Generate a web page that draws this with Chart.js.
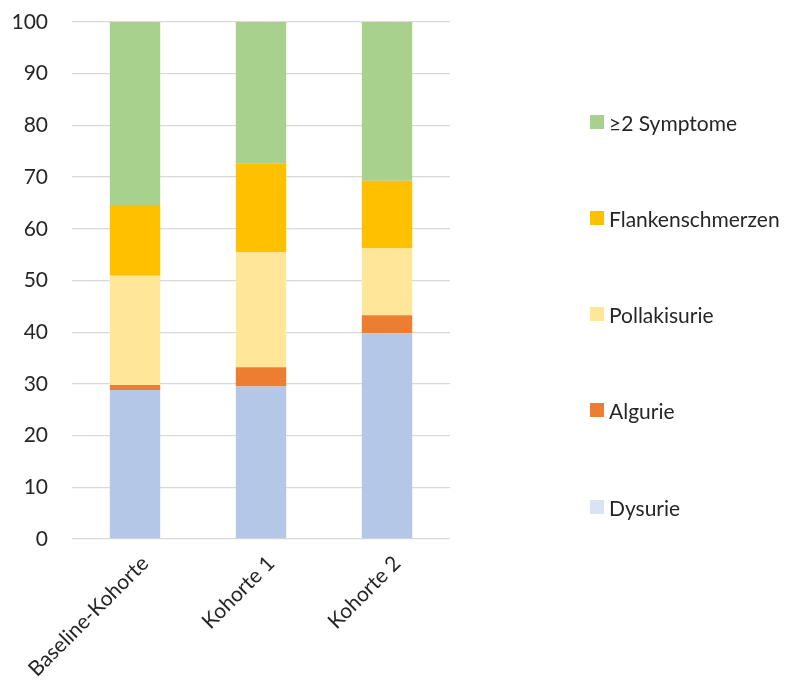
<!DOCTYPE html>
<html lang="de">
<head>
<meta charset="utf-8">
<script src="https://cdn.jsdelivr.net/npm/chart.js@4/dist/chart.umd.min.js"></script>
<style>
  html, body { margin: 0; padding: 0; background: #fff; }
  #wrap { position: relative; width: 791px; height: 686px; }
  #chart { position: absolute; left: 0; top: 0; }
  .legend-item {
    position: absolute; left: 590px; height: 26px;
    display: flex; align-items: center;
    font-family: Lato, "Liberation Sans", sans-serif; font-size: 21px; color: #262626;
    white-space: nowrap;
  }
  .legend-item span.box { display: inline-block; width: 14px; height: 14px; margin-right: 5px; }
</style>
</head>
<body>
<div id="wrap">
  <canvas id="chart" width="791" height="686"></canvas>
  <div id="legend"></div>
</div>
<script>
const categories = ['Baseline-Kohorte', 'Kohorte 1', 'Kohorte 2'];
const seriesNames = ['Dysurie', 'Algurie', 'Pollakisurie', 'Flankenschmerzen', '≥2 Symptome'];
const dysurie = [28.8, 29.5, 39.8];
const algurie = [1.0, 3.7, 3.5];
const pollakisurie = [21.1, 22.3, 13.0];
const flankenschmerzen = [13.5, 17.2, 13.0];
const mehrereSymptome = [35.6, 27.3, 30.7];
const yTicks = [0, 10, 20, 30, 40, 50, 60, 70, 80, 90, 100];

const barColors = ['#B4C7E7', '#ED7D31', '#FFE699', '#FFC000', '#A9D18E'];
const swatchColors = ['#DAE3F3', '#ED7D31', '#FFE699', '#FFC000', '#A9D18E'];
const seriesValues = [dysurie, algurie, pollakisurie, flankenschmerzen, mehrereSymptome];

const datasets = seriesNames.map((name, i) => ({
  label: name,
  data: seriesValues[i],
  backgroundColor: barColors[i],
  borderWidth: 0,
  barPercentage: 0.8,
  categoryPercentage: 0.5
}));

const font = { family: 'Lato, "Liberation Sans", sans-serif', size: 21 };

new Chart(document.getElementById('chart'), {
  type: 'bar',
  data: { labels: categories, datasets },
  options: {
    responsive: false,
    animation: false,
    layout: { padding: { left: 0, right: 341, top: 22, bottom: 0 } },
    plugins: { legend: { display: false }, tooltip: { enabled: false } },
    scales: {
      x: {
        stacked: true,
        grid: { display: false },
        border: { display: false },
        ticks: { color: '#262626', font, minRotation: 45, maxRotation: 45, padding: 4, labelOffset: 10 },
        afterFit: (s) => { s.height = 147; s.paddingLeft = 0; s.paddingRight = 0; }
      },
      y: {
        stacked: true,
        min: 0, max: 100,
        afterBuildTicks: (axis) => { axis.ticks = yTicks.map(v => ({ value: v })); },
        grid: { color: '#D9D9D9', lineWidth: 1.3, drawTicks: false },
        border: { display: false },
        ticks: { color: '#262626', font, padding: 24 },
        afterFit: (s) => { s.width = 72; s.paddingTop = 0; s.paddingBottom = 0; }
      }
    }
  }
});

// legend on the right, top entry = top of the stack
const legendEl = document.getElementById('legend');
const legendY = [122, 218, 314, 410, 507];
seriesNames.slice().reverse().forEach((name, k) => {
  const i = seriesNames.length - 1 - k;
  const item = document.createElement('div');
  item.className = 'legend-item';
  item.style.top = (legendY[k] - 13) + 'px';
  const box = document.createElement('span');
  box.className = 'box';
  box.style.background = swatchColors[i];
  item.appendChild(box);
  item.appendChild(document.createTextNode(name));
  legendEl.appendChild(item);
});
</script>
</body>
</html>
